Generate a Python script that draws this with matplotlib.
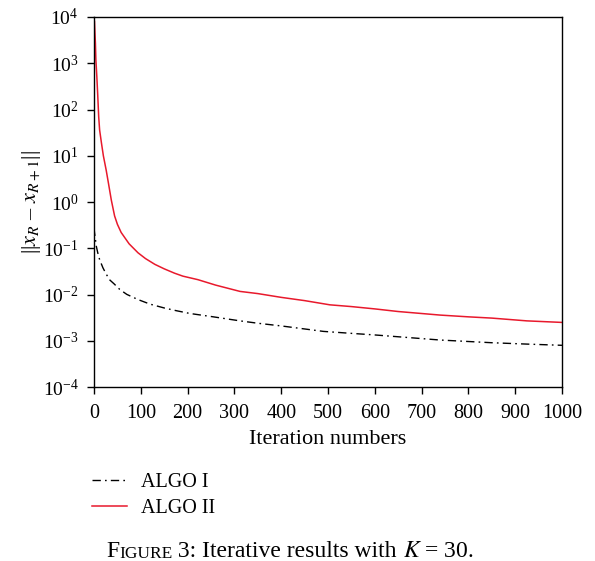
import numpy as np
import matplotlib.pyplot as plt
from matplotlib.ticker import LogLocator, LogFormatterSciNotation, NullLocator

plt.rcParams['font.family'] = ['Liberation Serif', 'DejaVu Serif']
plt.rcParams['mathtext.fontset'] = 'stix'

# avlästa värden
it_algo1 = [0, 1, 3, 5, 8, 12, 19, 25, 33, 43, 55, 70, 94, 120, 151, 175, 205, 255, 312, 350,
            400, 490, 550, 600, 675, 740, 850, 925, 1000]
res_algo1 = [0.28, 0.22, 0.156, 0.11, 0.08, 0.057, 0.038, 0.029, 0.021, 0.017, 0.0129, 0.0101,
             0.0078, 0.0062, 0.0051, 0.0045, 0.0039, 0.0033, 0.0027, 0.0024, 0.0021, 0.0016,
             0.00145, 0.00134, 0.00117, 0.00104, 0.00091, 0.00085, 0.0008]
it_algo2 = [1, 2, 3, 4, 6, 8, 10, 12, 16, 20, 26, 31, 37, 44, 50, 58, 75, 94, 110, 130, 150,
            172, 190, 222, 260, 312, 350, 400, 450, 504, 550, 600, 650, 740, 800, 850, 925, 1000]
res_algo2 = [8000, 4500, 2700, 1200, 520, 200, 70, 36, 18.6, 10, 4.9, 2.5, 1.1, 0.5, 0.33, 0.22,
             0.125, 0.08, 0.06, 0.045, 0.036, 0.029, 0.025, 0.021, 0.016, 0.0117, 0.0105, 0.0087,
             0.0074, 0.006, 0.0055, 0.0049, 0.0043, 0.0036, 0.0033, 0.0031, 0.0027, 0.0025]
labels = ["ALGO I", "ALGO II"]
xticks = np.arange(0, 1001, 100)

fig = plt.figure(figsize=(5.95, 5.61), dpi=100)
ax = fig.add_axes([0.158, 0.31, 0.7865, 0.6597])

l1, = ax.plot(it_algo1, res_algo1, color='black', lw=1.0, dashes=(6, 3, 1.2, 3))
l2, = ax.plot(it_algo2, res_algo2, color='#e8192c', lw=1.1)
ax.set_yscale('log')
ax.set_xlim(0, 1000)
ax.set_ylim(1e-4, 1e4)
ax.set_xticks(xticks)
ax.yaxis.set_major_locator(LogLocator(base=10, numticks=20))
ax.yaxis.set_major_formatter(LogFormatterSciNotation())
ax.yaxis.set_minor_locator(NullLocator())
ax.tick_params(direction='out', length=5, width=1)
ax.tick_params(axis='x', labelsize=14.5, pad=7)
ax.tick_params(axis='y', labelsize=14, pad=6)
for s in ax.spines.values():
    s.set_linewidth(1.0)
ax.set_xlabel("Iteration numbers", fontsize=16, labelpad=5)
ax.set_ylabel(r"||$x_R$ – $x_{R+1}$||", fontsize=16, labelpad=0)

fig.legend([l1, l2], labels, loc='upper left', bbox_to_anchor=(0.124, 0.19), frameon=False,
           fontsize=14.5, handlelength=1.75, handletextpad=0.7, labelspacing=0.35)

# bildtext med kapitäler
t = fig.text(0.178, 0.008, "F", fontsize=17)
t = ax.annotate("IGURE", xy=(1, 0), xycoords=t, fontsize=12.5, va='bottom')
t = ax.annotate(" 3: Iterative results with ", xy=(1, 0), xycoords=t, fontsize=17, va='bottom')
t = ax.annotate(r"$K$ = 30.", xy=(1, 0), xycoords=t, fontsize=17, va='bottom')

fig.savefig("out.png", dpi=100)
